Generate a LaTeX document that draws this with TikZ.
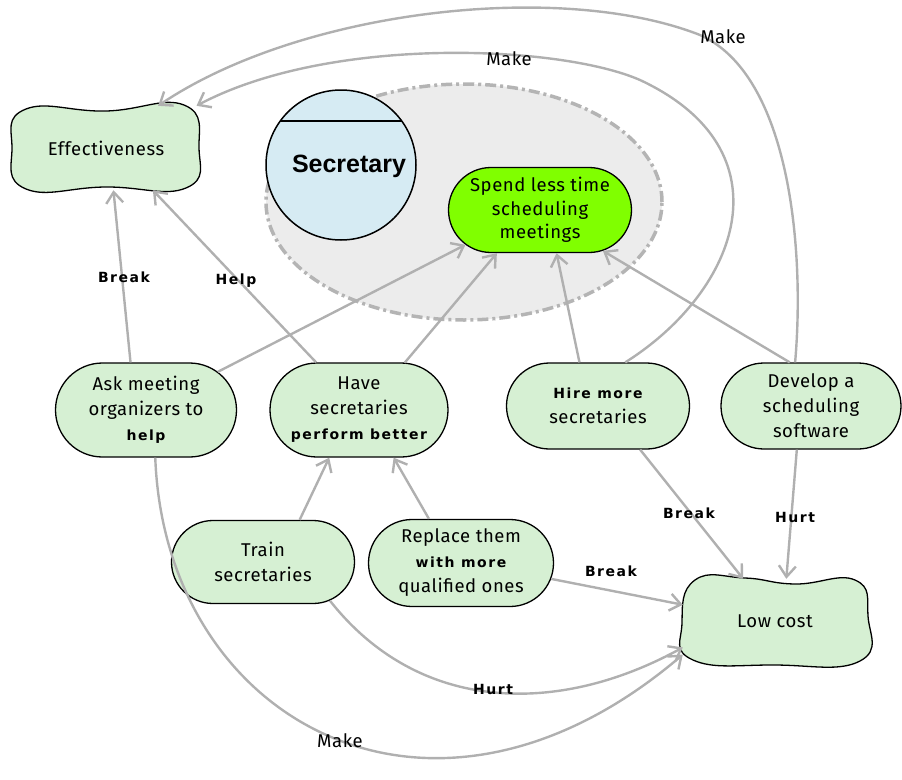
\documentclass[tikz,border=0pt]{standalone}
\usepackage{fontspec}
\setmainfont[LetterSpace=3]{Fira Sans}
\newfontfamily\lblfont[LetterSpace=11]{DejaVu Sans}
\newfontfamily\secfont{Liberation Sans}
\usetikzlibrary{arrows.meta}
\usetikzlibrary{calc}
\usetikzlibrary{shapes.misc}
\definecolor{linkgray}{RGB}{176,176,176}
\definecolor{palegreen}{RGB}{214,240,211}
\definecolor{limegreen}{RGB}{128,255,0}
\definecolor{secblue}{RGB}{214,235,243}
\definecolor{ovalgray}{RGB}{236,236,236}
\definecolor{ovalline}{RGB}{180,180,180}
\newcommand{\hb}[1]{{\lblfont\bfseries\fontsize{14}{25}\selectfont #1}}

\begin{document}
\begin{tikzpicture}[x=1pt,y=-1pt,
  goal/.style={rounded rectangle, draw=black, line width=1.3pt, fill=palegreen,
    align=center, inner sep=0pt, font=\fontsize{18.5}{25}\selectfont},
  blob/.style={draw=black, line width=1.3pt, fill=palegreen},
  link/.style={draw=linkgray, line width=2.4pt,
    -{Straight Barb[length=11pt,width=17pt,line width=2.4pt]}},
  lbl/.style={font=\fontsize{14}{16}\lblfont\bfseries},
  mk/.style={font=\fontsize{18.5}{20}\selectfont}]
\useasboundingbox (0,0) rectangle (902,779);

% grey oval round the secretary's goal
\draw[draw=ovalline, fill=ovalgray, line width=3.5pt,
  dash pattern=on 11pt off 4pt on 3pt off 4pt] (464,202) ellipse [x radius=198pt, y radius=118pt];

% softgoals
\coordinate (effc) at (106,148);
\draw[blob, shift={(effc)}] plot[smooth cycle, tension=0.8] coordinates
  {(-94,0) (-80,-39) (0,-37) (78,-43) (93,0) (80,40) (0,39) (-80,41)};
\node[mk] (eff) at (effc) [minimum width=184pt, minimum height=84pt] {Effectiveness};

\coordinate (lowc) at (775,621);
\draw[blob, shift={(lowc)}] plot[smooth cycle, tension=0.8] coordinates
  {(-93,2) (-80,-41) (-30,-43) (20,-37) (80,-41) (93,-5) (85,40) (0,44) (-82,39)};
\node[mk] (low) at (lowc) [minimum width=184pt, minimum height=84pt] {Low cost};

% actor
\node[circle, draw=black, line width=1.5pt, fill=secblue, minimum size=150pt, inner sep=0pt] (sec) at (341,165) {};
\draw[line width=1.3pt] ($(sec.center)+(-60.7,-44)$) -- ++(121.4,0);
\node[font=\fontsize{25}{28}\secfont\bfseries] (secl) at (349,166) {Secretary};

% goal and tasks
\node[goal, fill=limegreen, minimum width=183pt, minimum height=85pt] (spend) at (540,210)
  {Spend less time\\[-1.5pt]scheduling\\[-1.5pt]meetings};
\node[goal, minimum width=181pt, minimum height=94pt] (ask) at (146,410)
  {Ask meeting\\organizers to\\\hb{help}};
\node[goal, minimum width=178pt, minimum height=94pt] (have) at (359,410)
  {Have\\secretaries\\\hb{perform better}};
\node[goal, minimum width=183pt, minimum height=86pt] (hire) at (598,406)
  {\hb{Hire more}\\secretaries};
\node[goal, minimum width=180pt, minimum height=86pt] (dev) at (811,406)
  {Develop a\\scheduling\\software};
\node[goal, minimum width=183pt, minimum height=83pt] (train) at (263,562)
  {Train\\secretaries};
\node[goal, minimum width=185pt, minimum height=87pt] (repl) at (461,563)
  {Replace them\\\hb{with more}\\qualified ones};

% links
\draw[link] (ask.108) -- (eff.-80);
\draw[link] (have.132) -- (eff.-42);
\draw[link] (ask.28) -- (spend.205);
\draw[link] (have.46) -- (spend.225);
\draw[link] (hire.113) -- (spend.-69);
\draw[link] (dev.116) -- (spend.-33);
\draw[link] (hire.58) .. controls (740,290) and (790,150) .. (640,80)
  .. controls (560,45) and (330,35) .. (eff.25);
\draw[link] (dev.110) .. controls (805,250) and (790,75) .. (700,35)
  .. controls (560,-20) and (300,10) .. (eff.39);
\draw[link] (hire.-46) -- (low.127);
\draw[link] (dev.-108) -- (low.75);
\draw[link] (repl.-10) -- (low.170);
\draw[link] (train.-30) .. controls (420,715) and (560,715) .. (low.196);
\draw[link] (ask.-79) .. controls (165,720) and (430,870) .. (low.200);
\draw[link] (train.49) -- (have.238);
\draw[link] (repl.126) -- (have.-54);

% link labels
\node[lbl] (l1) at (124,277) {Break};
\node[lbl] (l2) at (236,281) {Help};
\node[mk] (l3) at (509,59) {Make};
\node[mk] (l4) at (723,37) {Make};
\node[lbl] (l5) at (689,513) {Break};
\node[lbl] (l6) at (795,517) {Hurt};
\node[lbl] (l7) at (611,571) {Break};
\node[lbl] (l8) at (493,689) {Hurt};
\node[mk] (l9) at (340,741) {Make};
\end{tikzpicture}
\end{document}
